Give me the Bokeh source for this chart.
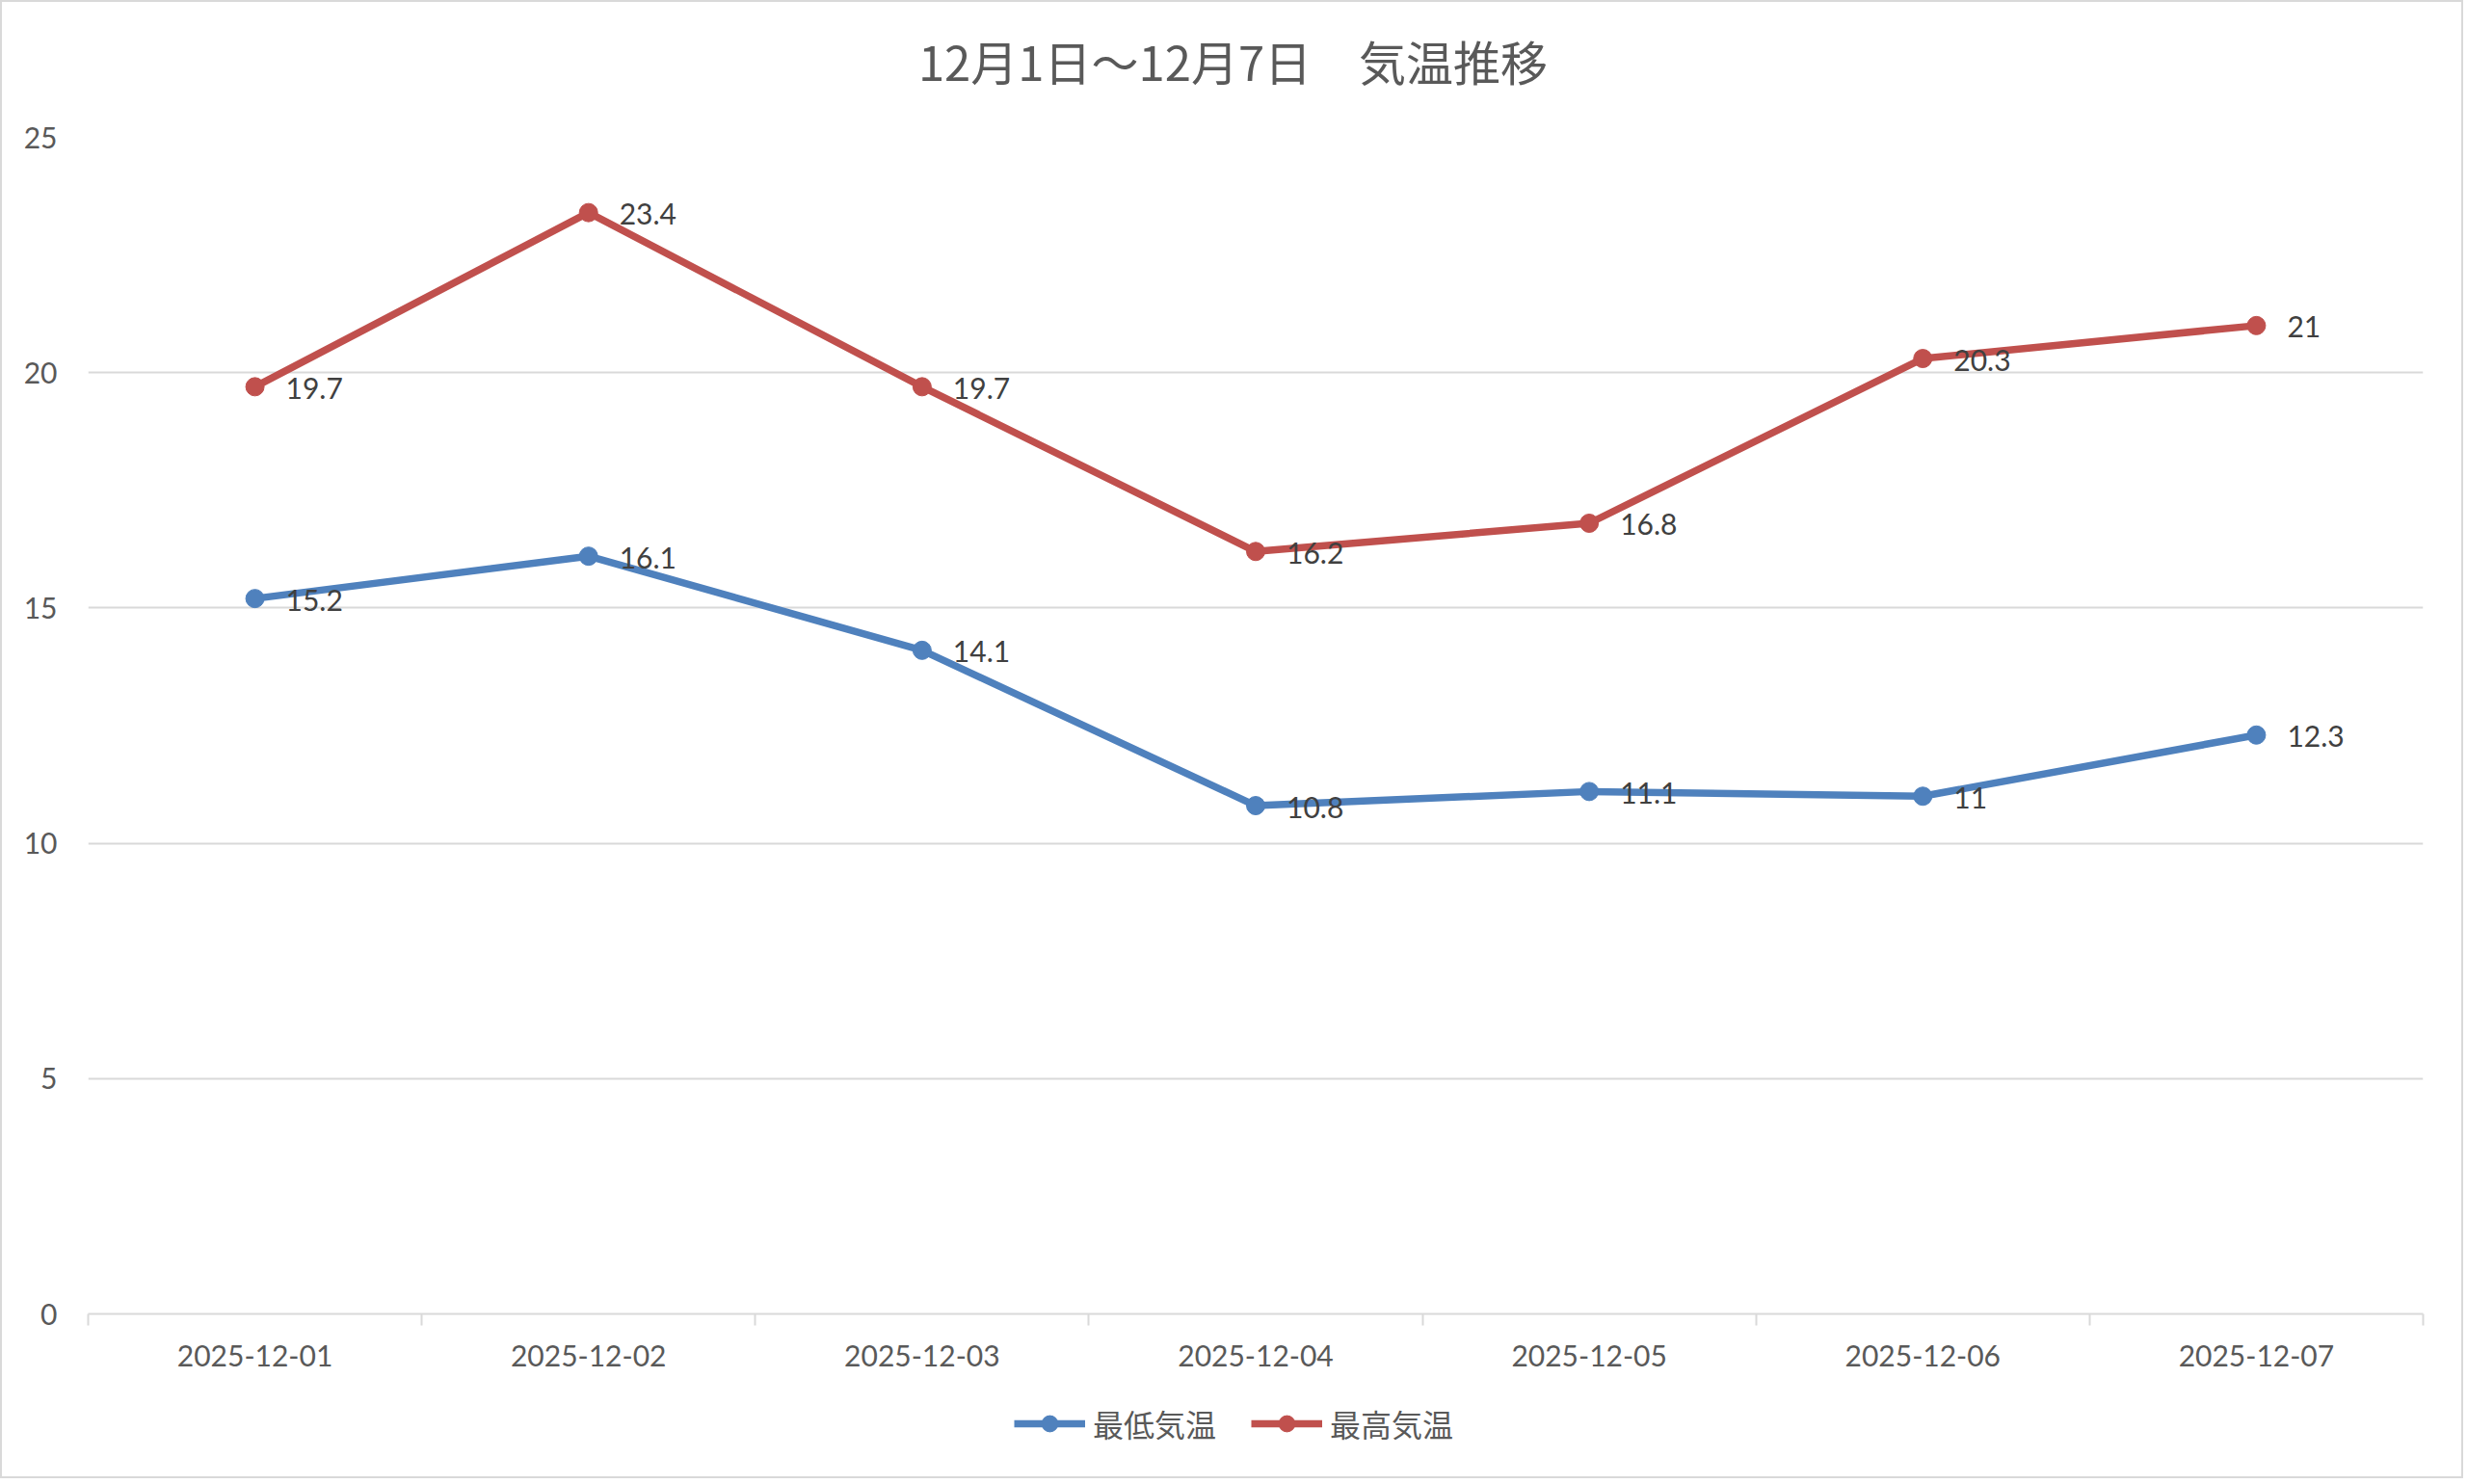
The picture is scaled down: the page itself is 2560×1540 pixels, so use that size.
from bokeh.plotting import figure
from bokeh.layouts import column
from bokeh.models import (ColumnDataSource, Range1d, FixedTicker, Legend, LegendItem,
                          Label, LabelSet)
from bokeh.embed import file_html
from bokeh.resources import INLINE
from bokeh.core.properties import value

# ---- data ----
dates = ["2025-12-01", "2025-12-02", "2025-12-03", "2025-12-04",
         "2025-12-05", "2025-12-06", "2025-12-07"]
min_temp = [15.2, 16.1, 14.1, 10.8, 11.1, 11.0, 12.3]
max_temp = [19.7, 23.4, 19.7, 16.2, 16.8, 20.3, 21.0]
y_ticks = [0, 5, 10, 15, 20, 25]
series_names = ["最低気温", "最高気温"]
title_text = "12月1日～12月7日　気温推移"

# ---- styling ----
BLUE = "#4F81BD"
RED = "#C0504D"
GRID = "#D9D9D9"
AXIS_TXT = "#595959"
LABEL_TXT = "#404040"
NUM_FONT = "Lato, 'Noto Sans CJK JP'"
CJK_FONT = "'Noto Sans CJK JP'"
LW, MS = 7.5, 19

W = 2552
HT, H1, H2 = 110, 1328, 92
ML, MR, MT = 89, 40, 30
MB = H1 - MT - 1221


def strip(height):
    f = figure(width=W, height=height, output_backend="svg", toolbar_location=None,
               x_range=Range1d(0, 1), y_range=Range1d(-2, -1),
               min_border_left=0, min_border_right=0, min_border_top=0,
               min_border_bottom=0)
    f.axis.visible = False
    f.grid.visible = False
    f.outline_line_color = None
    f.background_fill_color = "white"
    f.border_fill_color = "white"
    return f


x_idx = list(range(len(dates)))

src_min = ColumnDataSource(dict(x=x_idx, y=min_temp, lbl=[f"{v:g}" for v in min_temp]))
src_max = ColumnDataSource(dict(x=x_idx, y=max_temp, lbl=[f"{v:g}" for v in max_temp]))

# ---- title strip ----
t = strip(HT)
t.add_layout(Label(x=1188, y=HT - 60, x_units="screen", y_units="screen",
                   text=title_text, text_align="center", text_baseline="middle",
                   text_font=CJK_FONT, text_font_size="49px",
                   text_color=AXIS_TXT))

# ---- main chart ----
p = figure(width=W, height=H1, output_backend="svg", toolbar_location=None,
           x_range=Range1d(-0.5, len(dates) - 0.5), y_range=Range1d(0, 25),
           min_border_left=ML, min_border_right=MR, min_border_top=MT,
           min_border_bottom=MB)
p.outline_line_color = None
p.background_fill_color = "white"
p.border_fill_color = "white"

xa = p.xaxis[0]
xa.ticker = FixedTicker(ticks=x_idx, minor_ticks=[i - 0.5 for i in range(len(dates) + 1)])
xa.major_label_overrides = {i: d for i, d in enumerate(dates)}
xa.major_tick_out = 0
xa.major_tick_in = 0
xa.minor_tick_out = 12
xa.minor_tick_in = 0
xa.minor_tick_line_color = GRID
xa.minor_tick_line_width = 2
xa.axis_line_color = GRID
xa.axis_line_width = 2
xa.major_label_standoff = 20
xa.major_label_text_font = NUM_FONT
xa.major_label_text_font_size = "30px"
xa.major_label_text_color = AXIS_TXT

ya = p.yaxis[0]
ya.ticker = FixedTicker(ticks=y_ticks)
ya.axis_line_color = None
ya.major_tick_line_color = None
ya.minor_tick_line_color = None
ya.major_label_standoff = 26
ya.major_label_text_font = NUM_FONT
ya.major_label_text_font_size = "30px"
ya.major_label_text_color = AXIS_TXT

p.xgrid.grid_line_color = None
p.ygrid.ticker = FixedTicker(ticks=y_ticks)
p.ygrid.grid_line_color = GRID
p.ygrid.grid_line_width = 2

p.line("x", "y", source=src_min, line_color=BLUE, line_width=LW)
p.scatter("x", "y", source=src_min, size=MS, fill_color=BLUE, line_color=BLUE)
p.line("x", "y", source=src_max, line_color=RED, line_width=LW)
p.scatter("x", "y", source=src_max, size=MS, fill_color=RED, line_color=RED)

for s in (src_min, src_max):
    p.add_layout(LabelSet(x="x", y="y", text="lbl", source=s, x_offset=32, y_offset=-1.5,
                          text_baseline="middle", text_align="left",
                          text_font=value(NUM_FONT), text_font_size="30px",
                          text_color=LABEL_TXT))

# ---- legend strip (series drawn outside its view, only the keys show) ----
q = strip(H2)
ql1 = q.line("x", "y", source=src_min, line_color=BLUE, line_width=LW)
qc1 = q.scatter("x", "y", source=src_min, size=MS, fill_color=BLUE, line_color=BLUE)
ql2 = q.line("x", "y", source=src_max, line_color=RED, line_width=LW)
qc2 = q.scatter("x", "y", source=src_max, size=MS, fill_color=RED, line_color=RED)

legend = Legend(items=[LegendItem(label=series_names[0], renderers=[ql1, qc1]),
                       LegendItem(label=series_names[1], renderers=[ql2, qc2])],
                location=(961, 32), orientation="horizontal",
                padding=0, margin=0, border_line_alpha=0, background_fill_alpha=0,
                glyph_width=74, glyph_height=42, label_height=42, label_standoff=8,
                spacing=36,
                label_text_font=CJK_FONT, label_text_font_size="32px",
                label_text_color=AXIS_TXT, label_text_baseline="middle")
q.add_layout(legend)

layout = column(t, p, q, spacing=0)
layout.styles = {"border": "2px solid #D9D9D9"}

open("out.html", "w").write(file_html(layout, INLINE))
